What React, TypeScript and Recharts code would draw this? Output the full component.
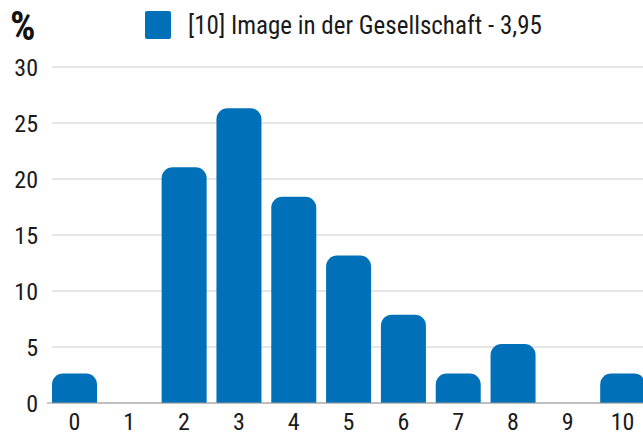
import React from "react";
import { BarChart, Bar, XAxis, YAxis, CartesianGrid } from "recharts";

const FONT = "'Liberation Sans Narrow', 'Arial Narrow', 'Roboto Condensed', sans-serif";
const BLUE = "#0070b8";

const CATEGORIES = ["0", "1", "2", "3", "4", "5", "6", "7", "8", "9", "10"];
const PERCENT = [2.63, 0, 21.05, 26.32, 18.42, 13.16, 7.89, 2.63, 5.26, 0, 2.63];
const Y_TICKS = [0, 5, 10, 15, 20, 25, 30];
const SERIES_NAME = "[10] Image in der Gesellschaft - 3,95";

const data = CATEGORIES.map((label, i) => ({ label, value: PERCENT[i] }));

export default function App() {
  return (
    <div
      style={{
        position: "fixed",
        left: 0,
        top: 0,
        width: 643,
        height: 436,
        overflow: "hidden",
        background: "#fff",
        fontFamily: FONT,
      }}
    >
      <div style={{ position: "absolute", left: 10, top: 7, fontSize: 40, lineHeight: "40px", fontWeight: 700, color: "#111" }}>
        %
      </div>
      <div style={{ position: "absolute", left: 145, top: 11, display: "flex", alignItems: "center", height: 28 }}>
        <div style={{ width: 26, height: 28, background: BLUE, borderRadius: 2 }} />
        <span style={{ marginLeft: 17, fontSize: 25, color: "#1a1a1a" }}>{SERIES_NAME}</span>
      </div>
      <BarChart
        width={650}
        height={436}
        data={data}
        margin={{ top: 67, right: 0, bottom: 0, left: 0 }}
        barSize={45}
      >
        <CartesianGrid vertical={false} stroke="#cccccc" x={52} width={600} />
        <XAxis
          dataKey="label"
          axisLine={{ stroke: "#999" }}
          tickLine={false}
          tickSize={0}
          tickMargin={10}
          height={33}
          tick={{ fill: "#1a1a1a", fontSize: 24, fontFamily: FONT }}
        />
        <YAxis
          domain={[0, 30]}
          ticks={Y_TICKS}
          axisLine={false}
          tickLine={false}
          tickSize={0}
          tickMargin={9}
          width={47}
          tick={{ fill: "#1a1a1a", fontSize: 24, fontFamily: FONT }}
        />
        <Bar dataKey="value" fill={BLUE} radius={[11, 11, 0, 0]} isAnimationActive={false} />
      </BarChart>
    </div>
  );
}
